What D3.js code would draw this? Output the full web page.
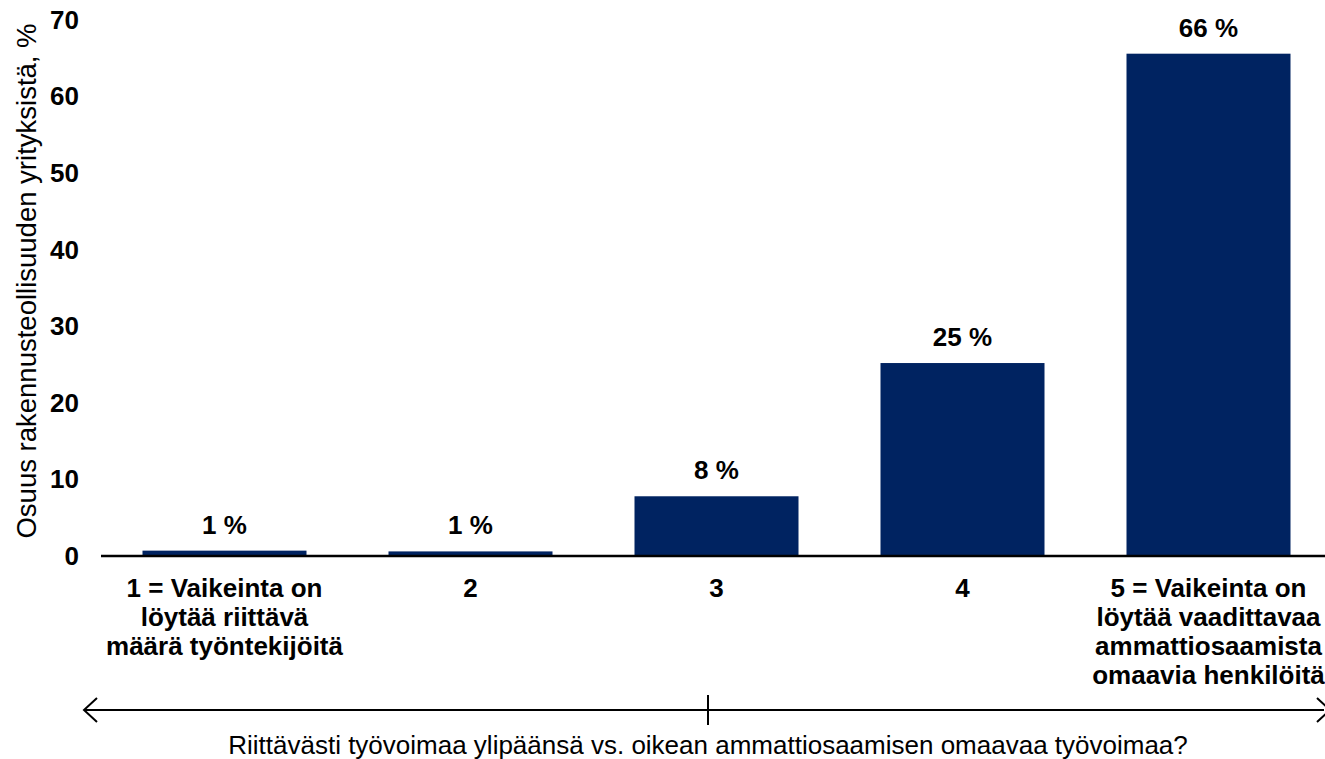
<!DOCTYPE html>
<html>
<head>
  <meta charset="UTF-8">
  <title>Riittävästi työvoimaa vs. ammattiosaaminen</title>
  <style>
    body { margin: 0; background: #ffffff; }
    svg { display: block; font-family: "Liberation Sans", Arial, sans-serif; }
  </style>
</head>
<body>
<svg></svg>
<script src="https://d3js.org/d3.v7.min.js"></script>
<script>

// data
let categories = ["1", "2", "3", "4", "5"];
let categoryLines = [
  ["1 = Vaikeinta on", "löytää riittävä", "määrä työntekijöitä"],
  ["2"],
  ["3"],
  ["4"],
  ["5 = Vaikeinta on", "löytää vaadittavaa", "ammattiosaamista", "omaavia henkilöitä"]
];
let values = [0.7, 0.6, 7.8, 25.2, 65.6];
let valueLabels = ["1 %", "1 %", "8 %", "25 %", "66 %"];
let yTicks = [0, 10, 20, 30, 40, 50, 60, 70];
let yTitle = "Osuus rakennusteollisuuden yrityksistä, %";
let bottomTitle = "Riittävästi työvoimaa ylipäänsä vs. oikean ammattiosaamisen omaavaa työvoimaa?";

let width = 1325, height = 759;

let svg = d3.select("svg")
    .attr("width", width)
    .attr("height", height);

let x = d3.scaleBand()
    .domain(categories)
    .range([101.5, 1331.5])
    .paddingInner(1 / 3)
    .paddingOuter(1 / 6);

let y = d3.scaleLinear()
    .domain([0, 70])
    .range([556, 20]);

// y tick labels (no axis line, no ticks)
let yAxis = svg.append("g")
    .attr("transform", "translate(79,0)")
    .call(d3.axisLeft(y).tickValues(yTicks).tickSize(0).tickPadding(0));
yAxis.select(".domain").remove();
yAxis.selectAll("text")
    .attr("font-family", "Liberation Sans, Arial, sans-serif")
    .attr("font-size", 26)
    .attr("font-weight", "bold")
    .attr("fill", "#000");

// y axis title
svg.append("text")
    .attr("transform", "translate(36,281) rotate(-90)")
    .attr("text-anchor", "middle")
    .attr("font-size", 27.5)
    .text(yTitle);

// bars
svg.append("g")
    .selectAll("rect")
    .data(values)
    .enter()
    .append("rect")
        .attr("x", (d, i) => x(categories[i]))
        .attr("y", d => y(d))
        .attr("width", x.bandwidth())
        .attr("height", d => y(0) - y(d))
        .attr("fill", "#002361");

// value labels
svg.append("g")
    .selectAll("text")
    .data(values)
    .enter()
    .append("text")
        .attr("x", (d, i) => x(categories[i]) + x.bandwidth() / 2)
        .attr("y", d => y(d) - 17)
        .attr("text-anchor", "middle")
        .attr("font-size", 26)
        .attr("font-weight", "bold")
        .text((d, i) => valueLabels[i]);

// baseline
svg.append("line")
    .attr("x1", 101).attr("x2", width)
    .attr("y1", y(0)).attr("y2", y(0))
    .attr("stroke", "#000")
    .attr("stroke-width", 2.5);

// category labels
let cat = svg.append("g")
    .selectAll("text")
    .data(categoryLines)
    .enter()
    .append("text")
        .attr("text-anchor", "middle")
        .attr("font-size", 26)
        .attr("font-weight", "bold")
        .attr("transform", (d, i) => "translate(" + (x(categories[i]) + x.bandwidth() / 2) + "," + (y(0) + 41) + ")");
cat.selectAll("tspan")
    .data(d => d)
    .enter()
    .append("tspan")
        .attr("x", 0)
        .attr("y", (d, i) => i * 29)
        .text(d => d);

// double arrow with centre tick
let ay = 710;
svg.append("line")
    .attr("x1", 84).attr("x2", 1324)
    .attr("y1", ay).attr("y2", ay)
    .attr("stroke", "#000").attr("stroke-width", 2);
svg.append("path")
    .attr("d", "M97," + (ay - 12) + " L84," + ay + " L97," + (ay + 12))
    .attr("fill", "none").attr("stroke", "#000").attr("stroke-width", 2);
svg.append("path")
    .attr("d", "M1317," + (ay - 12) + " L1330," + ay + " L1317," + (ay + 12))
    .attr("fill", "none").attr("stroke", "#000").attr("stroke-width", 2);
svg.append("line")
    .attr("x1", 708).attr("x2", 708)
    .attr("y1", ay - 15).attr("y2", ay + 15)
    .attr("stroke", "#000").attr("stroke-width", 2);

svg.append("text")
    .attr("x", 708)
    .attr("y", 754)
    .attr("text-anchor", "middle")
    .attr("font-size", 26)
    .text(bottomTitle);

</script>
</body>
</html>
